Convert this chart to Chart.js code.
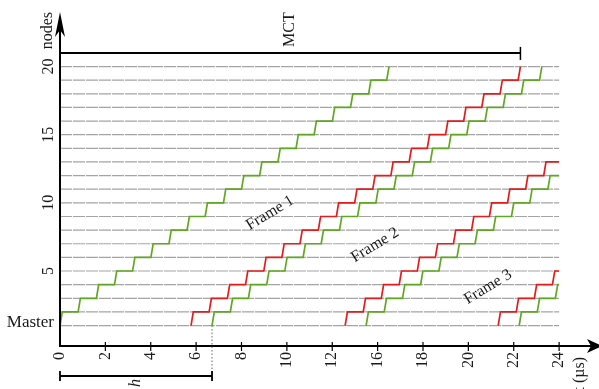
<!DOCTYPE html>
<html>
<head>
<meta charset="utf-8">
<script src="https://cdn.jsdelivr.net/npm/chart.js@4.4.1/dist/chart.umd.min.js"></script>
<style>
  body { margin: 0; background: #fff; }
  #wrap { width: 599px; height: 389px; }
</style>
</head>
<body>
<div id="wrap"><canvas id="frameChart" width="599" height="389"></canvas></div>
<script>
// x tick labels as printed on the figure (evenly spaced over 0..24)
const tickLabels = ['0', '2', '4', '6', '8', '10', '12', '16', '18', '20', '22', '24'];
const nodeTicks = [1, 5, 10, 15, 20];
const nodeTickLabels = ['Master', '5', '10', '15', '20'];

// start time (µs) of each hop, node k -> k+1, for every staircase
const green1 = [0.00, 0.87, 1.75, 2.62, 3.49, 4.37, 5.24, 6.11, 6.98, 7.86, 8.73, 9.60, 10.48, 11.35, 12.22, 13.10, 13.97, 14.84, 15.71];
const red1 = [6.30, 7.17, 8.05, 8.92, 9.80, 10.67, 11.54, 12.42, 13.29, 14.17, 15.04, 15.91, 16.79, 17.66, 18.54, 19.41, 20.28, 21.16, 22.03];
const green2 = [7.31, 8.19, 9.06, 9.94, 10.81, 11.69, 12.56, 13.44, 14.31, 15.19, 16.06, 16.94, 17.81, 18.69, 19.56, 20.44, 21.31, 22.19, 23.06];
const red2 = [13.71, 14.58, 15.45, 16.31, 17.18, 18.05, 18.92, 19.79, 20.65, 21.52, 22.39, 23.26];
const green3 = [14.72, 15.59, 16.47, 17.34, 18.22, 19.09, 19.96, 20.84, 21.71, 22.59, 23.46];
const red3 = [21.07, 21.94, 22.81, 23.68];
const green4 = [22.08, 22.95, 23.82];

const RISE = 0.11;    // time a hop takes
const T_END = 24;     // end of the time axis

// annotations
const mctEnd = 22.14;
const mctLevel = 21;
const hLength = 7.31;
const frameLabels = ['Frame 1', 'Frame 2', 'Frame 3'];
const frameLabelX = [10.1, 15.15, 20.58];
const frameLabelY = [9.26, 6.91, 3.83];

const RED = 'rgb(228,28,28)';
const GREEN = 'rgb(96,168,34)';
const SERIF = '"Liberation Serif", "DejaVu Serif", serif';

function stairs(hops, tail) {
    const pts = [];
    hops.forEach((t, k) => {
        pts.push({ x: t, y: 1 + k });
        pts.push({ x: t + RISE, y: 2 + k });
    });
    if (tail) pts.push({ x: T_END, y: hops.length + 1 });
    return pts;
}

function stairSet(hops, color, tail) {
    return {
        data: stairs(hops, tail),
        borderColor: color,
        borderWidth: 1.7,
        showLine: true,
        pointRadius: 0,
        tension: 0
    };
}

const decor = {
    id: 'decor',
    beforeDatasetsDraw(chart) {
        const ctx = chart.ctx;
        const X = v => chart.scales.x.getPixelForValue(v);
        const Y = v => chart.scales.y.getPixelForValue(v);
        ctx.save();
        ctx.strokeStyle = '#a4a4a4';
        ctx.lineWidth = 1.2;
        ctx.setLineDash([12, 1]);
        for (let n = 1; n <= 20; n++) {
            ctx.beginPath();
            ctx.moveTo(X(0), Y(n));
            ctx.lineTo(X(T_END), Y(n));
            ctx.stroke();
        }
        ctx.restore();
    },
    afterDatasetsDraw(chart) {
        const ctx = chart.ctx;
        const ca = chart.chartArea;
        const X = v => chart.scales.x.getPixelForValue(v);
        const Y = v => chart.scales.y.getPixelForValue(v);
        const x0 = X(0), yb = ca.bottom;

        ctx.save();
        ctx.fillStyle = '#000';
        ctx.strokeStyle = '#000';

        // axes
        ctx.lineWidth = 2;
        ctx.beginPath();
        ctx.moveTo(x0, yb + 1);
        ctx.lineTo(x0, 30);
        ctx.moveTo(x0, yb);
        ctx.lineTo(592, yb);
        ctx.stroke();
        // arrow heads
        ctx.beginPath();
        ctx.moveTo(x0, 12);
        ctx.lineTo(x0 + 5, 37);
        ctx.lineTo(x0, 30);
        ctx.lineTo(x0 - 5, 37);
        ctx.closePath();
        ctx.fill();
        ctx.beginPath();
        ctx.moveTo(602, yb);
        ctx.lineTo(587, yb - 7);
        ctx.lineTo(591, yb);
        ctx.lineTo(587, yb + 7);
        ctx.closePath();
        ctx.fill();

        // x ticks and labels
        ctx.fillStyle = '#1a1a1a';
        ctx.font = '16px ' + SERIF;
        ctx.lineWidth = 1.2;
        tickLabels.forEach((lab, i) => {
            const px = X(i * T_END / (tickLabels.length - 1));
            if (i > 0) {
                ctx.beginPath();
                ctx.moveTo(px, yb - 4);
                ctx.lineTo(px, yb + 5);
                ctx.stroke();
            }
            ctx.save();
            ctx.translate(px, 352);
            ctx.rotate(-Math.PI / 2);
            ctx.textAlign = 'right';
            ctx.textBaseline = 'middle';
            ctx.fillText(lab, 0, 0);
            ctx.restore();
        });

        // y labels
        nodeTicks.forEach((n, i) => {
            const py = Y(n);
            if (nodeTickLabels[i] === 'Master') {
                ctx.font = '17px ' + SERIF;
                ctx.textAlign = 'right';
                ctx.textBaseline = 'middle';
                ctx.fillText('Master', 54, py - 3);
            } else {
                ctx.font = '16px ' + SERIF;
                ctx.save();
                ctx.translate(49, py);
                ctx.rotate(-Math.PI / 2);
                ctx.textAlign = 'center';
                ctx.textBaseline = 'middle';
                ctx.fillText(nodeTickLabels[i], 0, 0);
                ctx.restore();
            }
        });

        // axis titles
        ctx.font = '16px ' + SERIF;
        ctx.save();
        ctx.translate(48, 12);
        ctx.rotate(-Math.PI / 2);
        ctx.textAlign = 'right';
        ctx.textBaseline = 'middle';
        ctx.fillText('nodes', 0, 0);
        ctx.restore();
        ctx.save();
        ctx.translate(580, 357);
        ctx.rotate(-Math.PI / 2);
        ctx.textAlign = 'right';
        ctx.textBaseline = 'middle';
        ctx.fillText('t (µs)', 0, 0);
        ctx.restore();

        // MCT bracket
        const ym = Y(mctLevel);
        ctx.lineWidth = 2;
        ctx.beginPath();
        ctx.moveTo(x0, ym);
        ctx.lineTo(X(mctEnd), ym);
        ctx.stroke();
        ctx.lineWidth = 1.5;
        ctx.beginPath();
        ctx.moveTo(X(mctEnd), ym - 6);
        ctx.lineTo(X(mctEnd), ym + 7);
        ctx.stroke();
        ctx.save();
        ctx.translate((x0 + X(mctEnd)) / 2, ym - 6);
        ctx.rotate(-Math.PI / 2);
        ctx.textAlign = 'left';
        ctx.textBaseline = 'middle';
        ctx.fillText('MCT', 0, 0);
        ctx.restore();

        // h bracket with dotted guide
        const xh = X(hLength);
        ctx.strokeStyle = '#666';
        ctx.lineWidth = 1;
        ctx.setLineDash([1.5, 2]);
        ctx.beginPath();
        ctx.moveTo(xh, Y(1));
        ctx.lineTo(xh, 371);
        ctx.stroke();
        ctx.setLineDash([]);
        ctx.strokeStyle = '#000';
        ctx.lineWidth = 1.8;
        ctx.beginPath();
        ctx.moveTo(x0, 376);
        ctx.lineTo(xh, 376);
        ctx.moveTo(x0, 371);
        ctx.lineTo(x0, 381);
        ctx.moveTo(xh, 371);
        ctx.lineTo(xh, 381);
        ctx.stroke();
        ctx.save();
        ctx.font = 'italic 16px ' + SERIF;
        ctx.translate((x0 + xh) / 2, 379);
        ctx.rotate(-Math.PI / 2);
        ctx.textAlign = 'right';
        ctx.textBaseline = 'middle';
        ctx.fillText('h', 0, 0);
        ctx.restore();

        // frame labels
        ctx.font = '16px ' + SERIF;
        frameLabels.forEach((lab, i) => {
            ctx.save();
            ctx.translate(X(frameLabelX[i]), Y(frameLabelY[i]));
            ctx.rotate(-0.55);
            ctx.textAlign = 'center';
            ctx.textBaseline = 'middle';
            ctx.fillText(lab, 0, 0);
            ctx.restore();
        });

        ctx.restore();
    }
};

const ctx = document.getElementById('frameChart').getContext('2d');
const chart = new Chart(ctx, {
    type: 'scatter',
    data: {
        datasets: [
            stairSet(green1, GREEN, false),
            stairSet(red1, RED, false),
            stairSet(green2, GREEN, false),
            stairSet(red2, RED, true),
            stairSet(green3, GREEN, true),
            stairSet(red3, RED, true),
            stairSet(green4, GREEN, true)
        ]
    },
    options: {
        responsive: false,
        animation: false,
        layout: { padding: { left: 60, right: 1, top: 12, bottom: 43 } },
        scales: {
            x: { type: 'linear', min: 0, max: 25.87, display: false },
            y: { type: 'linear', min: -0.5, max: 24, display: false }
        },
        plugins: {
            legend: { display: false },
            tooltip: { enabled: false }
        }
    },
    plugins: [decor]
});
</script>
</body>
</html>
